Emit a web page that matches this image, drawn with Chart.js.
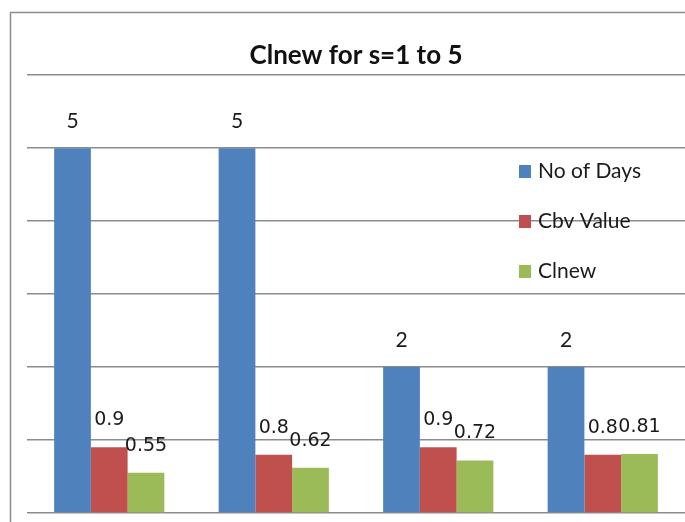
<!DOCTYPE html>
<html>
<head>
<meta charset="utf-8">
<script src="https://cdn.jsdelivr.net/npm/chart.js@4.4.1/dist/chart.umd.min.js"></script>
<style>
  html, body { margin: 0; padding: 0; background: #ffffff; }
  #wrap { width: 685px; height: 522px; position: relative; }
</style>
</head>
<body>
<div id="wrap"><canvas id="c" width="685" height="522"></canvas></div>
<script>
// Categories (s values) and the three series
const categories = ["s=1", "s=2", "s=3", "s=4"];
const noOfDays = [5, 5, 2, 2];
const cbvValue = [0.9, 0.8, 0.9, 0.8];
const clnew = [0.55, 0.62, 0.72, 0.81];
const seriesNames = ["No of Days", "Cbv Value", "Clnew"];
const seriesColors = ["#4F81BD", "#C0504D", "#9BBB59"];
const yTicks = [0, 1, 2, 3, 4, 5, 6];

// Outer frame of the chart
const framePlugin = {
  id: "frame",
  beforeDraw(chart) {
    const ctx = chart.ctx;
    ctx.save();
    ctx.fillStyle = "#ffffff";
    ctx.fillRect(0, 0, chart.width, chart.height);
    ctx.strokeStyle = "#8c8c8c";
    ctx.lineWidth = 1.5;
    ctx.beginPath();
    ctx.moveTo(10.5, chart.height);
    ctx.lineTo(10.5, 12.5);
    ctx.lineTo(chart.width, 12.5);
    ctx.stroke();
    ctx.restore();
  }
};

// Value labels above each bar
const valueLabels = {
  id: "valueLabels",
  afterDatasetsDraw(chart) {
    const ctx = chart.ctx;
    ctx.save();
    ctx.fillStyle = "#1a1a1a";
    ctx.textAlign = "center";
    ctx.textBaseline = "middle";
    chart.data.datasets.forEach((ds, di) => {
      const meta = chart.getDatasetMeta(di);
      ctx.font = di === 0 ? "21px Lato" : "19px 'DejaVu Sans'";
      meta.data.forEach((bar, i) => {
        ctx.fillText(String(ds.data[i]), bar.x, bar.y - 27);
      });
    });
    ctx.restore();
  }
};

// Legend placed inside the plot area on the right
const innerLegend = {
  id: "innerLegend",
  afterDraw(chart) {
    const ctx = chart.ctx;
    const rows = [171, 221, 271];
    ctx.save();
    ctx.font = "21px Lato";
    ctx.textBaseline = "middle";
    ctx.textAlign = "left";
    chart.data.datasets.forEach((ds, i) => {
      ctx.fillStyle = ds.backgroundColor;
      ctx.fillRect(519, rows[i] - 6, 12, 13);
      ctx.fillStyle = "#1a1a1a";
      ctx.fillText(ds.label, 538, rows[i]);
    });
    ctx.restore();
  }
};

new Chart(document.getElementById("c"), {
  type: "bar",
  data: {
    labels: categories,
    datasets: [
      { label: seriesNames[0], data: noOfDays, backgroundColor: seriesColors[0] },
      { label: seriesNames[1], data: cbvValue, backgroundColor: seriesColors[1] },
      { label: seriesNames[2], data: clnew, backgroundColor: seriesColors[2] }
    ]
  },
  options: {
    responsive: false,
    animation: false,
    layout: { padding: { left: 27, right: 0, top: 0, bottom: 9 } },
    datasets: { bar: { categoryPercentage: 0.67, barPercentage: 1.0 } },
    plugins: {
      legend: { display: false },
      tooltip: { enabled: false },
      title: {
        display: true,
        text: "Clnew for s=1 to 5",
        color: "#111111",
        font: { family: "Lato", size: 26, weight: "bold" },
        padding: { top: 40, bottom: 4 }
      }
    },
    scales: {
      x: { display: false },
      y: {
        min: yTicks[0],
        max: yTicks[yTicks.length - 1],
        afterBuildTicks(scale) { scale.ticks = yTicks.map(v => ({ value: v })); },
        ticks: { display: false },
        grid: { color: "#8c8c8c", lineWidth: 1.5, drawTicks: false },
        border: { display: false }
      }
    }
  },
  plugins: [framePlugin, valueLabels, innerLegend]
});
</script>
</body>
</html>
